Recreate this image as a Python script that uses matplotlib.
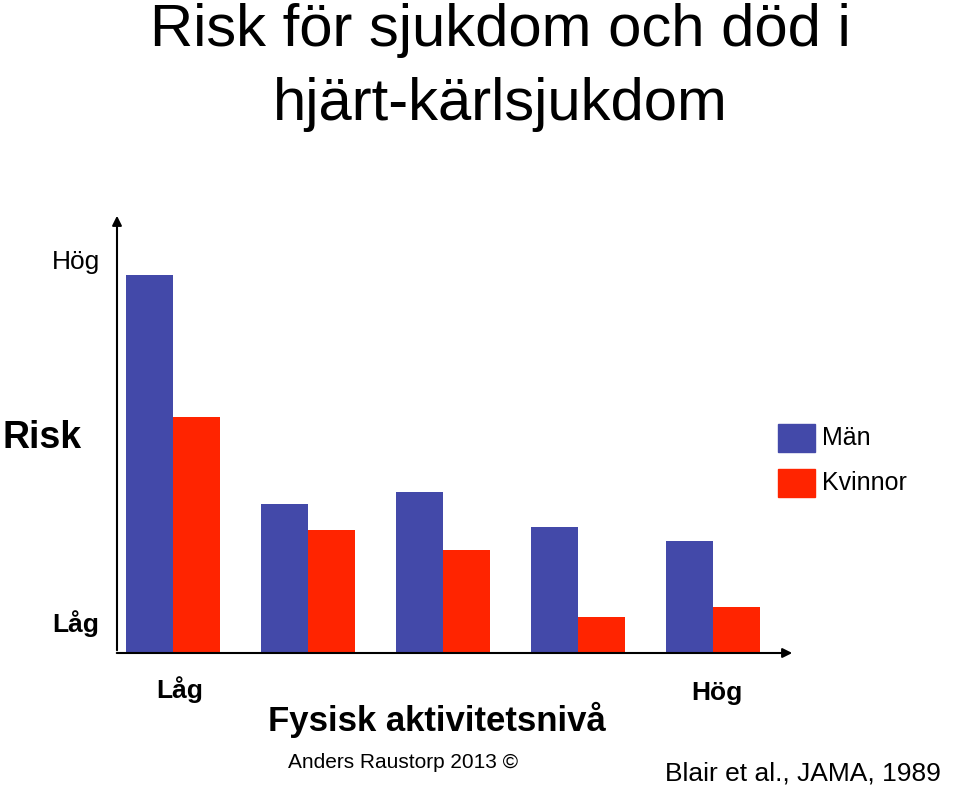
import numpy as np
import matplotlib.pyplot as plt

plt.rcParams["font.family"] = "Liberation Sans"

groups = [1, 2, 3, 4, 5]
man = [378, 149, 161, 126, 112]
kvinnor = [236, 123, 103, 36, 46]
man_color = "#4349A9"
kvinnor_color = "#FF2400"

W, H = 960, 788
fig = plt.figure(figsize=(9.6, 7.88), dpi=100)

# axes placed in pixel terms: x from 117 to 795, y from 653 up to 213
ax = fig.add_axes([117 / W, (H - 653) / H, 678 / W, 440 / H])
ax.set_xlim(0, 678)
ax.set_ylim(0, 440)
ax.axis("off")

centers = 56 + 135 * (np.array(groups) - 1)
bw = 47
ax.bar(centers - bw / 2, man, bw, color=man_color)
ax.bar(centers + bw / 2, kvinnor, bw, color=kvinnor_color)

# axis arrows
ax.annotate("", xy=(0, 440), xytext=(0, 0),
            arrowprops=dict(arrowstyle="-|>", color="black", lw=1.5, mutation_scale=14),
            annotation_clip=False)
ax.annotate("", xy=(678, 0), xytext=(-3, 0),
            arrowprops=dict(arrowstyle="-|>", color="black", lw=1.5, mutation_scale=14),
            annotation_clip=False)

def px(x, y):
    return x / W, 1 - y / H

fig.text(*px(500, 30), "Risk för sjukdom och död i", ha="center", va="center", fontsize=43)
fig.text(*px(500, 105), "hjärt-kärlsjukdom", ha="center", va="center", fontsize=43)

fig.text(*px(76, 262), "Hög", ha="center", va="center", fontsize=19)
fig.text(*px(42, 438), "Risk", ha="center", va="center", fontsize=27, fontweight="bold")
fig.text(*px(76, 624), "Låg", ha="center", va="center", fontsize=19, fontweight="bold")
fig.text(*px(180, 690), "Låg", ha="center", va="center", fontsize=19, fontweight="bold")
fig.text(*px(717, 693), "Hög", ha="center", va="center", fontsize=19, fontweight="bold")
fig.text(*px(437, 720), "Fysisk aktivitetsnivå", ha="center", va="center", fontsize=25, fontweight="bold")
fig.text(*px(403, 762), "Anders Raustorp 2013 ©", ha="center", va="center", fontsize=15)
fig.text(*px(803, 773), "Blair et al., JAMA, 1989", ha="center", va="center", fontsize=19)

# legend
for yc, col, lab in [(438, man_color, "Män"), (483, kvinnor_color, "Kvinnor")]:
    fig.patches.append(plt.Rectangle(px(778, yc + 14), 37 / W, 28 / H,
                                     transform=fig.transFigure, color=col))
    fig.text(*px(822, yc), lab, ha="left", va="center", fontsize=18)

fig.savefig("out.png", dpi=100)
